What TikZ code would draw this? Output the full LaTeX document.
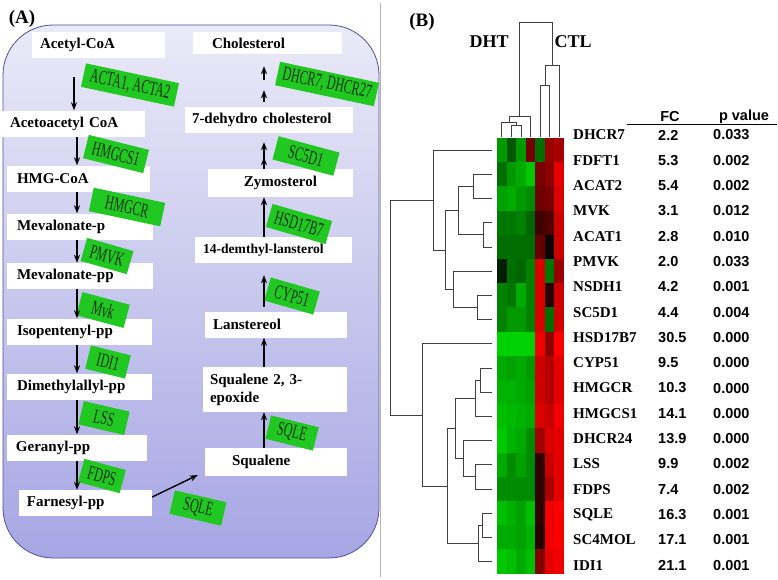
\documentclass[tikz,border=0pt]{standalone}
\usepackage{fontspec}
\setmainfont{Liberation Serif}
\newfontfamily\tabfont{Liberation Sans}
\usetikzlibrary{arrows.meta}

\definecolor{enzgreen}{RGB}{34,200,34}
\definecolor{enztext}{RGB}{20,50,20}
\definecolor{paneltop}{RGB}{234,234,248}
\definecolor{panelbot}{RGB}{166,166,228}
\definecolor{paneledge}{RGB}{80,80,150}

\newcommand{\enzname}[1]{\scalebox{0.6}[1]{#1}}

\tikzset{
	met/.style={fill=white, inner xsep=8pt, inner ysep=0pt, align=left, minimum height=26pt, font=\bfseries\fontsize{15}{18}\selectfont},
	enz/.style={fill=enzgreen, inner sep=0pt, minimum height=24pt, text=enztext, font=\fontsize{20}{21}\selectfont},
	arr/.style={-{Stealth[length=8pt,width=6pt]}, line width=1.4pt},
	tree/.style={line width=0.7pt, black!75},
	gene/.style={inner sep=0pt, anchor=west, font=\bfseries\fontsize{15}{17}\selectfont},
	val/.style={inner sep=0pt, font=\tabfont\bfseries\fontsize{14.5}{17}\selectfont}
}

\begin{document}
\begin{tikzpicture}[x=1pt, y=-1pt]
			\useasboundingbox (0,0) rectangle (778,579);
			
			% panel (A)
			\shadedraw[top color=paneltop, bottom color=panelbot, draw=paneledge, line width=0.8pt, rounded corners=50pt] (3,25) rectangle (379,558);
			\node[font=\bfseries\fontsize{19}{21}\selectfont] (lblA) at (22,19) {(A)};
			
			\coordinate (colA) at (74,0);
			\coordinate (colL) at (77,0);
			\coordinate (colR) at (264,0);
			
			\node[met, text width=117pt] (acetyl) at (98.5,45) {Acetyl-CoA};
			\node[met, text width=127pt] (acetoac) at (73.5,123.5) {Acetoacetyl CoA};
			\node[met, text width=123pt, inner xsep=10pt] (hmgcoa) at (78.5,178.5) {HMG-CoA};
			\node[met, text width=126pt, inner xsep=10pt] (mevp) at (80,226.5) {Mevalonate-p};
			\node[met, text width=126pt, inner xsep=10pt] (mevpp) at (80,276) {Mevalonate-pp};
			\node[met, text width=125pt, inner xsep=10pt] (isopent) at (79.5,331.5) {Isopentenyl-pp};
			\node[met, text width=125pt, inner xsep=10pt] (dimethyl) at (79.5,386.5) {Dimethylallyl-pp};
			\node[met, text width=122pt, inner xsep=9pt] (geranyl) at (77,447.5) {Geranyl-pp};
			\node[met, text width=117pt] (farnesyl) at (85.5,503) {Farnesyl-pp};
			
			\node[met, text width=111pt, inner xsep=19pt, minimum height=22pt] (cholesterol) at (267.5,43) {Cholesterol};
			\node[met, text width=154pt, inner xsep=7pt] (dehydro) at (269,120) {7-dehydro cholesterol};
			\node[met, text width=129pt, align=center, minimum height=28pt] (zymo) at (280.5,183) {Zymosterol};
			\node[met, text width=141pt, font=\bfseries\fontsize{13.6}{17}\selectfont] (demthyl) at (273.5,250) {14-demthyl-lansterol};
			\node[met, text width=126pt] (lanstereol) at (276,324.5) {Lanstereol};
			\node[met, text width=130pt, inner xsep=7pt, minimum height=45pt] (epoxide) at (275,389.5) {Squalene 2, 3-\\epoxide};
			\node[met, text width=88pt, inner xsep=27pt, minimum height=28pt] (squalene) at (276,462) {Squalene};
			
			\node[enz, rotate=-12, minimum width=95pt] (acta) at (130,85) {\enzname{ACTA1, ACTA2}};
			\node[enz, rotate=-14, minimum width=62pt] (hmgcs) at (116,154) {\enzname{HMGCS1}};
			\node[enz, rotate=-12, minimum width=73pt] (hmgcr) at (127,207) {\enzname{HMGCR}};
			\node[enz, rotate=-16, minimum width=48pt] (pmvk) at (107,256) {\enzname{PMVK}};
			\node[enz, rotate=-15, minimum width=49pt] (mvk) at (103,310) {\enzname{Mvk}};
			\node[enz, rotate=-14, minimum width=41pt] (idi) at (108,362) {\enzname{IDI1}};
			\node[enz, rotate=-13, minimum width=47pt] (lss) at (104,418) {\enzname{LSS}};
			\node[enz, rotate=-15, minimum width=43pt] (fdps) at (102,476) {\enzname{FDPS}};
			\node[enz, rotate=-13, minimum width=53pt] (sqleA) at (198,508) {\enzname{SQLE}};
			\node[enz, rotate=-14, minimum width=49pt] (sqleB) at (292,433) {\enzname{SQLE}};
			\node[enz, rotate=-16, minimum width=51pt] (cyp) at (292,296) {\enzname{CYP51}};
			\node[enz, rotate=-16, minimum width=62pt] (hsd) at (299,224) {\enzname{HSD17B7}};
			\node[enz, rotate=-15, minimum width=63pt] (scd) at (306,156) {\enzname{SC5D1}};
			\node[enz, rotate=-12, minimum width=101pt] (dhcr) at (327,84) {\enzname{DHCR7, DHCR27}};
			
			\draw[arr] ([yshift=-19pt]acetyl.south -| colA) -- (acetoac.north -| colA);
			\draw[arr] (acetoac.south -| colL) -- (hmgcoa.north -| colL);
			\draw[arr] (hmgcoa.south -| colL) -- (mevp.north -| colL);
			\draw[arr] (mevp.south -| colL) -- (mevpp.north -| colL);
			\draw[arr] (mevpp.south -| colL) -- (isopent.north -| colL);
			\draw[arr] (isopent.south -| colL) -- (dimethyl.north -| colL);
			\draw[arr] (dimethyl.south -| colL) -- (geranyl.north -| colL);
			\draw[arr] (geranyl.south -| colL) -- (farnesyl.north -| colL);
			\draw[arr] ([yshift=6pt]farnesyl.east) -- ([xshift=-7pt,yshift=-13pt]squalene.west);
			
			\draw[arr] (squalene.north -| colR) -- (epoxide.south -| colR);
			\draw[arr] (epoxide.north -| colR) -- (lanstereol.south -| colR);
			\draw[arr] ([yshift=4pt]lanstereol.north -| colR) -- ([yshift=-12pt]demthyl.south -| colR);
			\draw[arr] (demthyl.north -| colR) -- (zymo.south -| colR);
			\draw[arr] (zymo.north -| colR) -- ([yshift=-24pt]dehydro.south -| colR);
			\draw[arr] (zymo.north -| colR) -- ([yshift=-9pt]dehydro.south -| colR);
			\draw[arr] ([yshift=5pt]dehydro.north -| colR) -- ([yshift=-36pt]cholesterol.south -| colR);
			\draw[arr] ([yshift=-26pt]cholesterol.south -| colR) -- ([yshift=-12pt]cholesterol.south -| colR);
			
			\draw[gray!60, line width=1pt] (380.5,3) -- (380.5,577);
			
			% panel (B)
			\node[font=\bfseries\fontsize{19}{21}\selectfont] (lblB) at (422,22) {(B)};
			\node[font=\bfseries\fontsize{18}{20}\selectfont] (dht) at (489,42) {DHT};
			\node[font=\bfseries\fontsize{18}{20}\selectfont] (ctl) at (573,42) {CTL};
			
			\foreach \vals [count=\i] in {
				{-60,-35,-60,45,-43,60,65},
				{-43,-60,-67,-78,47,55,90},
				{-63,-67,-60,-55,43,47,86},
				{-47,-47,-51,-40,25,32,80},
				{-43,-43,-43,-43,40,6,80},
				{-12,-43,-40,-51,86,-47,60},
				{-51,-47,-67,-51,86,16,82},
				{-51,-60,-60,-51,86,-43,82},
				{-82,-82,-82,-82,94,55,100},
				{-67,-63,-67,-60,82,70,90},
				{-70,-70,-67,-63,82,70,90},
				{-75,-72,-70,-67,86,78,94},
				{-78,-70,-67,-55,63,86,90},
				{-67,-55,-63,-55,20,78,90},
				{-55,-55,-55,-55,20,67,90},
				{-75,-70,-63,-75,20,94,98},
				{-67,-67,-63,-70,16,94,98},
				{-78,-75,-67,-75,51,90,94}}{
				\foreach \v [count=\j] in \vals {
					\ifnum\v<0 \edef\cellcol{green!\the\numexpr-\v\relax!black}\else\edef\cellcol{red!\v!black}\fi
					\fill[fill=\cellcol] ({497+9.57*(\j-1)},{138+24.2*(\i-1)}) rectangle ++(9.65,24.3);
				}
			}
			
			% column tree
			\draw[tree] (511.4,137) |- (521,125) -- (521,137);
			\draw[tree] (501.8,137) |- (516.2,122) -- (516.2,125);
			\draw[tree] (509,122) |- (530.6,116) -- (530.6,137);
			\draw[tree] (540.2,137) |- (549.8,85) -- (549.8,137);
			\draw[tree] (545,85) |- (559.4,65) -- (559.4,137);
			\draw[tree] (519.8,116) |- (552.2,22) -- (552.2,65);
			
			% row tree
			\draw[tree] (492,174.3) -| (473,198.5) -- (492,198.5);
			\draw[tree] (492,222.7) -| (483,246.9) -- (492,246.9);
			\draw[tree] (473,186.4) -| (458,234.8) -- (483,234.8);
			\draw[tree] (492,295.3) -| (477,319.5) -- (492,319.5);
			\draw[tree] (492,271.1) -| (453,307.4) -- (477,307.4);
			\draw[tree] (458,210.6) -| (445,289.3) -- (453,289.3);
			\draw[tree] (492,150.1) -| (433,250) -- (445,250);
			\draw[tree] (492,367.9) -| (480,392.1) -- (492,392.1);
			\draw[tree] (480,380) -| (475,416.3) -- (492,416.3);
			\draw[tree] (492,464.7) -| (475,488.9) -- (492,488.9);
			\draw[tree] (492,440.5) -| (463,476.8) -- (475,476.8);
			\draw[tree] (475,398.2) -| (455,458.7) -- (463,458.7);
			\draw[tree] (492,513.1) -| (482,537.3) -- (492,537.3);
			\draw[tree] (482,525.2) -| (478,561.5) -- (492,561.5);
			\draw[tree] (455,428.5) -| (447,543.4) -- (478,543.4);
			\draw[tree] (492,343.7) -| (422,486) -- (447,486);
			\draw[tree] (433,200) -| (390,414.9) -- (422,414.9);
			
			% table
			\node[val] (fchead) at (670,117) {FC};
			\node[val] (phead) at (744,117) {p value};
			\draw[line width=1.5pt] (627,124.5) -- (777,124.5);
			\foreach \g/\fc/\pv [count=\k] in {DHCR7/2.2/0.033, FDFT1/5.3/0.002, ACAT2/5.4/0.002, MVK/3.1/0.012, ACAT1/2.8/0.010, PMVK/2.0/0.033, NSDH1/4.2/0.001, SC5D1/4.4/0.004, HSD17B7/30.5/0.000, CYP51/9.5/0.000, HMGCR/10.3/0.000, HMGCS1/14.1/0.000, DHCR24/13.9/0.000, LSS/9.9/0.002, FDPS/7.4/0.002, SQLE/16.3/0.001, SC4MOL/17.1/0.001, IDI1/21.1/0.001}{
				\node[gene] (g\k) at (573,{135+25.3*(\k-1)}) {\g};
				\node[val, anchor=west] (fc\k) at (658,{135+25.3*(\k-1)}) {\fc};
				\node[val, anchor=west] (pv\k) at (713,{135+25.3*(\k-1)}) {\pv};
			}
			
		\end{tikzpicture}
\end{document}
